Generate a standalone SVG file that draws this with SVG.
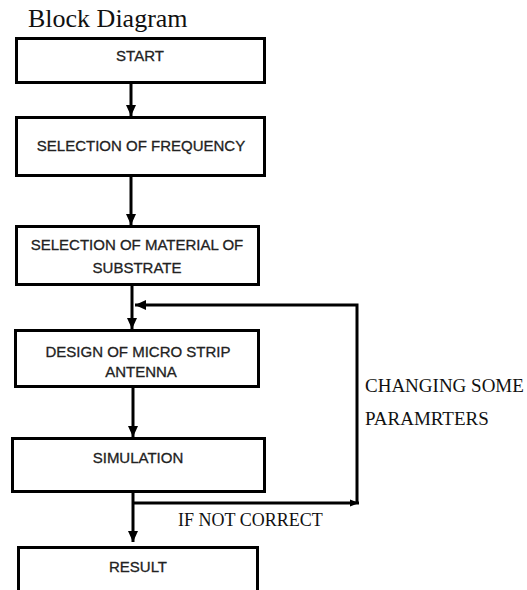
<svg xmlns="http://www.w3.org/2000/svg" width="527" height="590" viewBox="0 0 527 590">
<style>
.box{fill:#fff;stroke:#000;stroke-width:3}
.bt{font-family:"Liberation Sans",Arial,sans-serif;font-size:15px;fill:#222;stroke:#222;stroke-width:0.3;text-anchor:middle}
.st{font-family:"Liberation Serif","Times New Roman",serif;fill:#111}
.con{fill:none;stroke:#000;stroke-width:3}
</style>
<defs>
<marker id="ah" markerUnits="userSpaceOnUse" markerWidth="12" markerHeight="12" viewBox="0 0 12 12" refX="11" refY="6" orient="auto">
<path d="M0,1 L11,6 L0,11 Z" fill="#000"/>
</marker>
<marker id="ahs" markerUnits="userSpaceOnUse" markerWidth="10" markerHeight="10" viewBox="0 0 10 10" refX="9" refY="5" orient="auto">
<path d="M0,1.5 L9,5 L0,8.5 Z" fill="#000"/>
</marker>
</defs>
<rect width="527" height="590" fill="#fff"/>
<text class="st" x="28" y="27" font-size="26">Block Diagram</text>

<g id="connectors">
<line class="con" x1="131" y1="82" x2="131" y2="116" marker-end="url(#ah)"/>
<line class="con" x1="131" y1="176" x2="131" y2="225" marker-end="url(#ah)"/>
<line class="con" x1="132" y1="285" x2="132" y2="329" marker-end="url(#ah)"/>
<line class="con" x1="133" y1="387" x2="133" y2="437" marker-end="url(#ah)"/>
<line class="con" x1="133" y1="492" x2="133" y2="542" marker-end="url(#ah)"/>
<line class="con" x1="133" y1="503" x2="359" y2="503" marker-end="url(#ahs)"/>
<path class="con" d="M357,503 V305 H135" marker-end="url(#ah)"/>
<text class="st" x="178" y="526" font-size="18">IF NOT CORRECT</text>
<text class="st" x="365" y="392" font-size="19">CHANGING SOME</text>
<text class="st" x="365" y="425" font-size="19">PARAMRTERS</text>
</g>

<g id="start">
<rect class="box" x="16.5" y="38.5" width="248" height="44"/>
<text class="bt" x="140" y="61">START</text>
</g>
<g id="frequency">
<rect class="box" x="16.5" y="117.5" width="248" height="58"/>
<text class="bt" x="141" y="151">SELECTION OF FREQUENCY</text>
</g>
<g id="material">
<rect class="box" x="16.5" y="226.5" width="242" height="58"/>
<text class="bt" x="137" y="250">SELECTION OF MATERIAL OF</text>
<text class="bt" x="137" y="273">SUBSTRATE</text>
</g>
<g id="design">
<rect class="box" x="15.5" y="330.5" width="243" height="56"/>
<text class="bt" x="138" y="357">DESIGN OF MICRO STRIP</text>
<text class="bt" x="141" y="377">ANTENNA</text>
</g>
<g id="simulation">
<rect class="box" x="12.5" y="438.5" width="252" height="53"/>
<text class="bt" x="138" y="463">SIMULATION</text>
</g>
<g id="result">
<rect class="box" x="18.5" y="547.5" width="239" height="46"/>
<text class="bt" x="138" y="572">RESULT</text>
</g>
</svg>
